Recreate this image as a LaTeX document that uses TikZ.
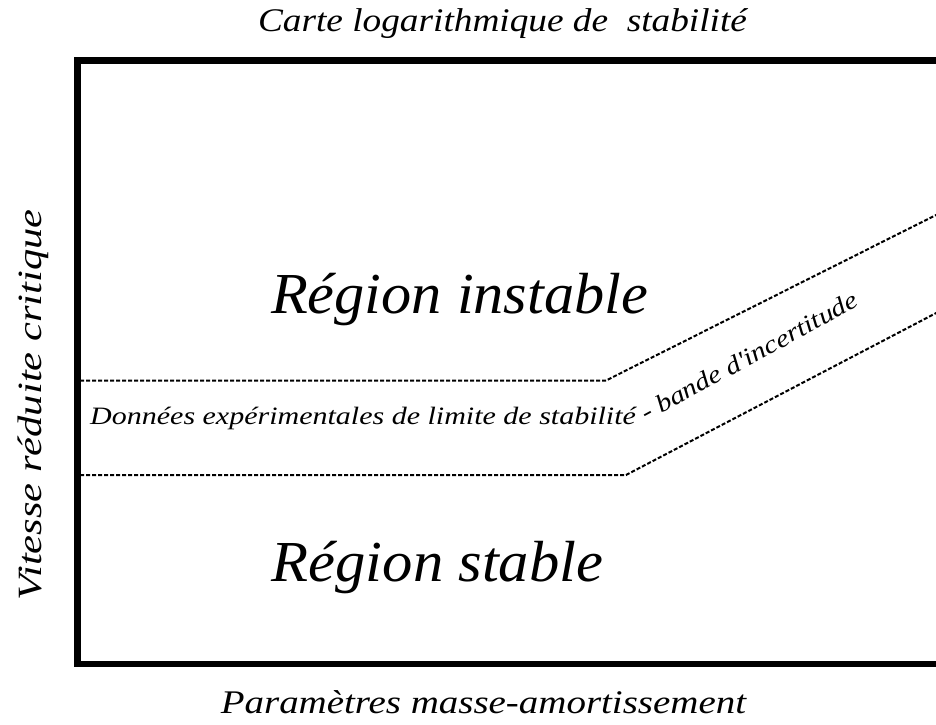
\documentclass[tikz,border=0pt]{standalone}
\usepackage{fontspec}
\setmainfont{Liberation Serif}[Ligatures=TeXOff]
\begin{document}
\begin{tikzpicture}[x=1pt,y=-1pt,
  lbl/.style={inner sep=0pt},
  band/.style={line width=2pt,dash pattern=on 4pt off 2pt}]
\useasboundingbox (0,0) rectangle (936,724);
\coordinate (tr) at (960,60.5);
\coordinate (tl) at (77.5,60.5);
\coordinate (bl) at (77.5,664);
\coordinate (br) at (960,664);
\draw[line width=6.5pt] (tr) -- (tl) -- (bl) -- (br);
\coordinate (u0) at (80,380.5);
\coordinate (u1) at (606,380.5);
\coordinate (u2) at (940,213);
\coordinate (l0) at (80,475);
\coordinate (l1) at (626,475);
\coordinate (l2) at (940,311);
\draw[band] (u0) -- (u1) -- (u2);
\draw[band] (l0) -- (l1) -- (l2);
\node[lbl,anchor=base,font=\itshape\fontsize{33}{37}\selectfont] (title) at (502.5,31) {\scalebox{1.13}[1]{Carte logarithmique de\ \ stabilité}};
\node[lbl,anchor=base,font=\itshape\fontsize{33}{37}\selectfont] (xlab) at (483.5,713) {\scalebox{1.18}[1]{Paramètres masse-amortissement}};
\node[lbl,anchor=base,font=\itshape\fontsize{34}{38}\selectfont,rotate=90] (ylab) at (41,405) {\scalebox{1.25}[1]{Vitesse réduite critique}};
\node[lbl,anchor=base,font=\itshape\fontsize{58}{62}\selectfont] (inst) at (459.5,313) {\scalebox{1.04}[1]{Région instable}};
\node[lbl,anchor=base,font=\itshape\fontsize{58}{62}\selectfont] (stab) at (437.5,581) {\scalebox{1.045}[1]{Région stable}};
\node[lbl,anchor=base west,font=\itshape\fontsize{25}{29}\selectfont] (donn) at (90,424) {\scalebox{1.2}[1]{Données expérimentales de limite de stabilité}};
\node[lbl,anchor=base west,font=\itshape\fontsize{25}{29}\selectfont,rotate=28.5] (bande) at (646,422) {\scalebox{1.17}[1]{- bande d'incertitude}};
\end{tikzpicture}
\end{document}
